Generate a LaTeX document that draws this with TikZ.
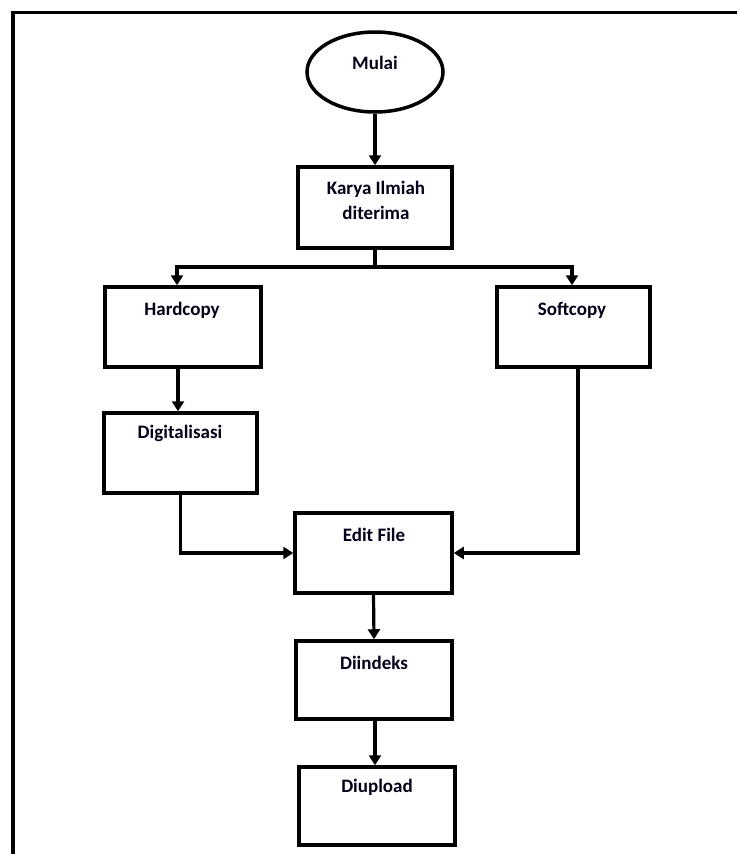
\documentclass[tikz,border=0pt]{standalone}
\usepackage{fontspec}
\setmainfont{Carlito}
\usetikzlibrary{arrows.meta,shapes.geometric}
\begin{document}
\begin{tikzpicture}[x=1pt,y=-1pt,
  boxnode/.style={draw=black,line width=3.5pt,rectangle,minimum width=#1,minimum height=80pt,inner sep=0pt},
  oval/.style={draw=black,line width=3.5pt,ellipse,minimum width=136pt,minimum height=80pt,inner sep=0pt},
  lbl/.style={font=\bfseries\fontsize{19}{25}\selectfont,text=black!90!blue,inner sep=0pt,align=center},
  conn/.style={line width=3.2pt,draw=black,-{Triangle[width=12pt,length=10pt]}},
  plain/.style={line width=3.2pt,draw=black}]
\useasboundingbox (0,0) rectangle (737,854);
\fill[white] (0,0) rectangle (737,854);
% frame
\coordinate (fbl) at (13,854);
\coordinate (ftl) at (13,12.5);
\coordinate (ftr) at (737,12.5);
\draw[line width=3.5pt] (fbl) -- (ftl) -- (ftr);
% nodes
\node[oval] (mulai) at (375,72) {};
\node[lbl] (tmulai) at (375,63) {Mulai};
\node[boxnode=154pt,minimum height=81pt] (karya) at (375,207.5) {};
\node[lbl] (tkarya) at (376,200) {Karya Ilmiah\\diterima};
\node[boxnode=156pt] (hard) at (183,327) {};
\node[lbl] (thard) at (182,310) {Hardcopy};
\node[boxnode=153pt] (soft) at (573.5,327) {};
\node[lbl] (tsoft) at (572,310) {Softcopy};
\node[boxnode=153pt] (digi) at (180.5,453) {};
\node[lbl] (tdigi) at (180,433) {Digitalisasi};
\node[boxnode=157pt] (edit) at (373.5,553) {};
\node[lbl] (tedit) at (374,535) {Edit File};
\node[boxnode=156pt,minimum height=78pt] (indeks) at (374,680) {};
\node[lbl] (tindeks) at (374,663) {Diindeks};
\node[boxnode=156pt,minimum height=78pt] (upload) at (377,806) {};
\node[lbl] (tupload) at (377,787) {Diupload};
% connectors
\coordinate (split) at (375,267);
\draw[conn] (mulai.south) -- (karya.north);
\draw[plain] (karya.south) -- (split);
\draw[conn] (split) -| ([xshift=-6pt]hard.north);
\draw[conn] (split) -| ([xshift=-1.5pt]soft.north);
\draw[conn] ([xshift=-5pt]hard.south) -- ([xshift=-2.5pt]digi.north);
\draw[conn] (digi.south) |- (edit.west);
\draw[conn] ([xshift=4.5pt]soft.south) |- (edit.east);
\draw[conn] (edit.south) -- (indeks.north);
\draw[conn] ([xshift=1pt]indeks.south) -- ([xshift=-2pt]upload.north);
\end{tikzpicture}
\end{document}
